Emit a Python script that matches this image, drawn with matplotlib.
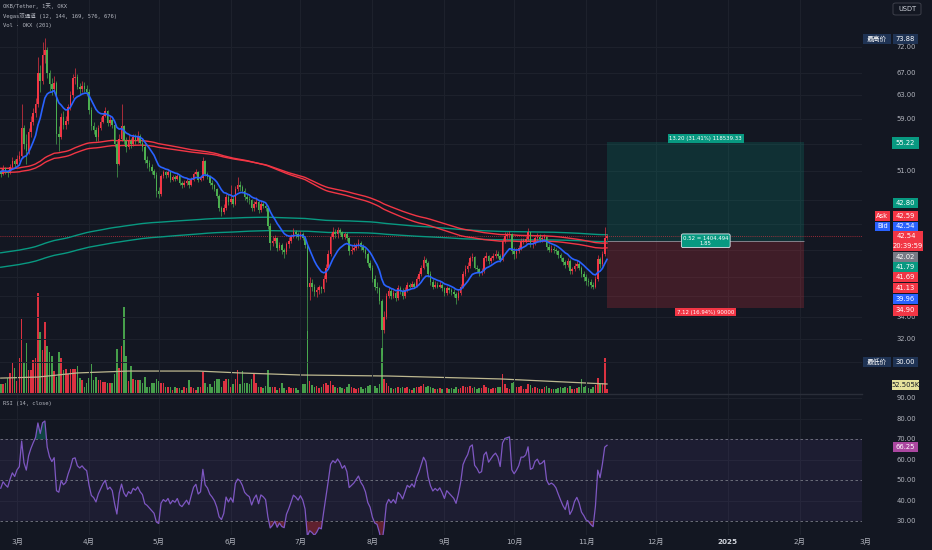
import numpy as np
import pandas as pd
import matplotlib
matplotlib.use('Agg')
import matplotlib.pyplot as plt
import matplotlib.dates as mdates
from matplotlib.patches import Rectangle, FancyBboxPatch
from matplotlib.transforms import blended_transform_factory as blend

plt.rcParams['font.family'] = ['DejaVu Sans', 'Noto Sans CJK SC']
MONO = ['DejaVu Sans Mono', 'Noto Sans CJK SC']

# ---------------- data (daily OKB/USDT, OKX) ----------------
start_date = '2024-02-23'
first_open = 50.9

close_feb = [50.6, 51.4, 51.0, 50.7, 51.6, 52.4, 52.0]
close_mar = [52.8, 53.2, 57.5, 55.0, 54.0, 56.8, 58.5, 60.0, 61.5, 67.0,
             65.5, 70.5, 71.5, 67.0, 65.0, 64.0, 65.2, 56.5, 56.0, 59.2,
             58.0, 58.6, 61.0, 63.0, 66.0, 66.3, 64.5, 64.0, 64.6, 64.0, 63.6]
close_apr = [60.5, 57.8, 57.2, 56.0, 57.5, 58.5, 59.5, 60.2, 58.3, 58.7,
             58.0, 55.0, 52.0, 55.8, 57.8, 55.5, 54.5, 55.5, 55.0, 56.0,
             55.6, 56.2, 55.2, 54.6, 52.6, 52.2, 51.6, 51.0, 50.4, 48.2]
close_may = [47.8, 50.3, 50.8, 50.4, 50.8, 49.8, 50.2, 49.9, 50.3, 49.3,
             49.0, 49.3, 49.6, 49.0, 49.8, 50.6, 50.9, 49.8, 50.0, 52.4,
             50.6, 50.2, 49.4, 49.0, 48.5, 47.6, 46.0, 45.5, 46.0, 47.5, 46.8]
close_jun = [47.2, 46.6, 48.5, 49.0, 48.8, 48.3, 47.5, 47.2, 47.0, 46.0,
             46.5, 46.8, 45.8, 46.5, 46.3, 46.0, 43.8, 41.8, 42.0, 42.3,
             41.2, 41.5, 40.9, 40.7, 41.6, 42.0, 42.5, 43.0, 42.8, 42.5]
close_jul = [42.8, 42.4, 41.5, 37.0, 37.4, 37.0, 36.4, 36.6, 36.9, 36.7,
             37.8, 39.0, 40.5, 42.5, 43.0, 42.8, 43.3, 43.0, 42.5, 42.8,
             42.3, 40.8, 41.0, 41.2, 41.5, 41.8, 41.3, 41.0, 40.5, 39.5, 39.0]
close_aug = [37.8, 37.0, 36.8, 35.5, 32.8, 34.0, 36.0, 36.5, 36.0, 36.3,
             35.8, 36.8, 36.5, 36.0, 36.6, 37.2, 37.0, 37.3, 37.0, 37.8,
             38.3, 39.0, 39.8, 39.5, 38.3, 37.5, 37.0, 37.2, 37.0, 37.2, 36.8]
close_sep = [36.3, 36.8, 36.6, 36.4, 36.2, 35.8, 36.3, 37.0, 38.3, 38.8,
             39.2, 40.0, 40.2, 39.0, 38.8, 38.5, 38.6, 40.0, 40.3, 39.7,
             40.0, 40.3, 40.5, 40.3, 39.8, 42.0, 42.6, 42.7, 42.8, 40.8]
close_oct = [40.5, 40.8, 41.2, 42.0, 42.0, 42.2, 43.0, 41.6, 41.7, 42.3,
             42.5, 42.2, 42.3, 42.5, 41.3, 41.0, 41.1, 41.0, 40.8, 40.4,
             40.0, 39.6, 39.3, 39.7, 38.6, 38.8, 39.2, 39.4, 39.0, 38.3, 38.0]
close_nov = [37.6, 37.5, 37.2, 37.0, 37.8, 39.9, 39.4, 40.5, 42.3, 42.54]

high_feb = [51.3, 51.8, 51.6, 51.2, 52.0, 53.0, 52.8]
high_mar = [53.4, 54.0, 61.5, 58.0, 56.5, 57.5, 59.5, 60.8, 62.5, 70.0,
            68.5, 73.0, 73.88, 72.0, 67.5, 66.0, 66.5, 65.5, 57.8, 60.0,
            60.2, 59.5, 61.5, 63.8, 66.8, 68.0, 66.8, 65.2, 65.5, 65.3, 64.8]
high_apr = [64.0, 61.0, 58.5, 57.6, 58.0, 59.2, 60.0, 61.0, 60.5, 59.5,
            59.0, 58.5, 55.5, 56.5, 61.5, 58.0, 56.0, 56.3, 55.9, 56.5,
            56.5, 57.0, 56.5, 55.6, 55.0, 53.2, 52.6, 52.0, 51.3, 50.8]
high_may = [48.8, 50.6, 51.2, 51.0, 51.2, 50.9, 50.5, 50.4, 50.6, 50.5,
            49.6, 49.7, 50.0, 49.8, 50.2, 50.9, 51.3, 51.0, 50.3, 53.0,
            52.6, 50.9, 50.4, 49.7, 49.2, 48.7, 47.8, 46.3, 46.5, 47.9, 47.8]
high_jun = [49.0, 47.6, 48.9, 50.2, 49.6, 49.1, 48.6, 47.8, 47.6, 47.2,
            46.9, 47.4, 47.0, 46.9, 46.8, 46.6, 46.2, 44.1, 42.6, 42.7,
            42.5, 41.9, 41.7, 41.2, 41.9, 42.5, 42.8, 43.5, 43.3, 43.0]
high_jul = [43.2, 43.0, 42.6, 41.8, 38.0, 37.8, 37.3, 36.9, 37.2, 37.1,
            38.2, 39.4, 40.9, 42.9, 43.6, 43.4, 43.6, 43.5, 43.2, 43.0,
            43.0, 42.5, 41.5, 41.8, 41.8, 42.2, 42.0, 41.6, 41.2, 40.7, 39.8]
high_aug = [39.3, 38.2, 37.5, 37.0, 35.7, 34.6, 36.3, 37.0, 36.8, 36.6,
            36.5, 37.2, 37.1, 36.8, 36.9, 37.5, 37.4, 37.6, 37.5, 38.1,
            38.6, 39.3, 40.3, 40.1, 39.7, 38.6, 37.8, 37.6, 37.5, 37.6, 37.4]
high_sep = [36.9, 37.1, 37.0, 36.8, 36.7, 36.4, 36.6, 37.3, 38.6, 39.3,
            39.6, 40.3, 40.6, 40.3, 39.3, 39.0, 38.9, 40.3, 40.7, 40.4,
            40.3, 40.6, 40.9, 40.8, 40.5, 42.4, 43.0, 43.1, 43.2, 42.9]
high_oct = [41.3, 41.2, 41.5, 42.3, 42.4, 42.6, 43.5, 43.1, 42.1, 42.6,
            42.9, 42.8, 42.6, 42.8, 42.6, 41.6, 41.5, 41.4, 41.2, 41.0,
            40.6, 40.2, 39.8, 40.0, 39.9, 39.1, 39.5, 39.8, 39.6, 39.2, 38.6]
high_nov = [38.3, 37.9, 37.8, 37.5, 38.1, 40.4, 40.2, 40.8, 43.7, 42.8]

low_feb = [50.2, 50.5, 50.6, 50.2, 50.6, 51.4, 51.5]
low_mar = [51.8, 52.4, 52.9, 54.3, 52.0, 53.5, 56.0, 58.0, 59.2, 61.0,
           63.5, 65.0, 68.8, 66.0, 63.8, 63.0, 63.5, 55.0, 54.0, 55.8,
           57.3, 57.4, 58.2, 60.5, 62.5, 65.0, 64.0, 63.2, 63.5, 63.5, 62.8]
low_apr = [59.8, 57.2, 56.5, 55.4, 55.5, 57.2, 58.3, 59.2, 57.8, 57.8,
           57.5, 54.5, 50.2, 51.8, 55.4, 55.0, 53.8, 54.2, 54.4, 54.7,
           55.0, 55.2, 55.0, 54.0, 52.2, 51.5, 51.0, 50.6, 50.0, 47.4]
low_may = [47.3, 47.6, 50.0, 50.0, 50.2, 49.5, 49.6, 49.6, 49.7, 49.0,
           48.6, 48.8, 49.1, 48.7, 48.9, 49.6, 50.4, 49.5, 49.6, 49.8,
           50.3, 49.9, 49.1, 48.5, 48.2, 47.3, 45.6, 45.0, 45.3, 45.8, 46.4]
low_jun = [46.5, 46.2, 46.4, 48.2, 48.3, 48.0, 47.1, 46.8, 46.5, 45.6,
           45.7, 46.2, 45.4, 45.5, 46.0, 45.6, 43.4, 41.0, 41.4, 41.7,
           40.8, 40.9, 40.5, 40.1, 40.5, 41.2, 41.8, 42.3, 42.4, 42.1]
low_jul = [42.2, 42.1, 41.2, 30.0, 35.6, 36.5, 36.0, 35.9, 36.2, 36.3,
           36.4, 37.5, 38.8, 40.3, 42.2, 42.3, 42.4, 42.7, 42.2, 42.2,
           42.0, 40.4, 40.5, 40.8, 40.9, 41.2, 41.0, 40.7, 40.1, 39.2, 38.7]
low_aug = [37.5, 36.6, 36.3, 35.2, 30.6, 32.5, 33.8, 35.8, 35.7, 35.8,
           35.5, 35.6, 36.2, 35.7, 35.8, 36.4, 36.8, 36.9, 36.8, 36.9,
           37.6, 38.1, 38.8, 39.2, 38.0, 37.2, 36.7, 36.8, 36.8, 36.8, 36.5]
low_sep = [36.0, 36.1, 36.3, 36.1, 35.9, 35.2, 35.6, 36.1, 36.8, 38.1,
           38.5, 39.0, 39.7, 38.8, 38.5, 38.1, 38.2, 38.4, 39.7, 39.4,
           39.5, 39.8, 40.1, 40.0, 39.6, 39.7, 41.7, 42.2, 42.4, 40.5]
low_oct = [39.9, 40.1, 40.6, 41.0, 41.6, 41.8, 42.0, 41.3, 41.2, 41.5,
           42.0, 41.9, 41.9, 42.0, 41.0, 40.7, 40.7, 40.6, 40.5, 40.1,
           39.7, 39.3, 38.9, 39.1, 38.3, 38.3, 38.6, 39.0, 38.7, 38.0, 37.6]
low_nov = [37.2, 37.1, 36.8, 36.7, 36.8, 37.6, 38.9, 39.2, 40.3, 42.1]

vol_feb = [54, 54, 60, 90, 114, 174, 144]
vol_mar = [72, 204, 432, 180, 294, 132, 132, 192, 204, 582,
           354, 252, 414, 276, 240, 216, 126, 96, 240, 204,
           132, 138, 108, 138, 138, 138, 156, 90, 78, 36, 60]
vol_apr = [90, 168, 78, 96, 78, 78, 66, 66, 60, 60,
           60, 108, 258, 144, 276, 504, 216, 72, 156, 84,
           78, 78, 78, 60, 96, 36, 36, 60, 60, 84]
vol_may = [72, 60, 60, 36, 36, 36, 18, 36, 30, 30,
           18, 36, 30, 78, 36, 30, 18, 36, 36, 120,
           60, 36, 54, 36, 72, 84, 84, 36, 72, 84, 84]
vol_jun = [36, 54, 84, 132, 54, 126, 60, 60, 54, 84,
           114, 60, 36, 36, 30, 42, 132, 36, 36, 36,
           18, 30, 60, 30, 18, 36, 30, 30, 30, 18]
vol_jul = [36, 54, 54, 360, 72, 48, 36, 42, 30, 36,
           54, 60, 48, 72, 48, 36, 30, 36, 30, 24,
           36, 54, 36, 30, 24, 30, 36, 24, 30, 42, 48]
vol_aug = [48, 42, 30, 54, 264, 84, 60, 42, 30, 24,
           30, 36, 30, 36, 30, 36, 24, 18, 30, 36,
           36, 42, 54, 36, 42, 36, 30, 24, 24, 30, 24]
vol_sep = [24, 30, 24, 30, 24, 36, 24, 30, 42, 36,
           36, 42, 30, 36, 24, 30, 30, 48, 36, 30,
           24, 30, 30, 36, 36, 108, 54, 30, 24, 60]
vol_oct = [66, 36, 36, 42, 24, 24, 54, 48, 30, 36,
           30, 24, 24, 36, 42, 30, 24, 24, 24, 30,
           36, 30, 36, 30, 42, 24, 24, 30, 36, 84, 36]
vol_nov = [42, 30, 24, 36, 48, 90, 54, 60, 204, 24]

# long volume average (thousands), sampled
vol_ma_dates = ['2024-02-23', '2024-03-10', '2024-03-27', '2024-04-18', '2024-05-18',
                '2024-06-05', '2024-07-01', '2024-08-08', '2024-09-25', '2024-11-10']
vol_ma_k = [87, 93, 117, 128, 128, 117, 105, 99, 82, 52.5]

# indicator seeds (values carried in from before the visible range)
ema_periods = [12, 144, 169, 576, 676]
ema_seeds = [51.0, 51.4, 50.8, 40.6, 39.0]
rsi_seed_gain, rsi_seed_loss = 0.50, 0.56

# position tool
entry_price, target_price, stop_price = 42.02, 55.22, 34.90
box_end_date = '2025-02-03'
profit_text = '13.20 (31.41%) 118539.33'
loss_text = '7.12 (16.94%) 90000'
mid_text = '0.52 = 1404.494\n1.85'

price_ticks = [72, 67, 63, 59, 55, 51, 47, 44, 41, 38, 36, 34, 32, 30]
price_tick_labels_shown = [72, 67, 63, 59, 51, 34, 32]
rsi_ticks = [90, 80, 70, 60, 50, 40, 30]
month_ticks = ['2024-03-01', '2024-04-01', '2024-05-01', '2024-06-01', '2024-07-01',
               '2024-08-01', '2024-09-01', '2024-10-01', '2024-11-01', '2024-12-01',
               '2025-01-01', '2025-02-01', '2025-03-01']
month_labels = ['3月', '4月', '5月', '6月', '7月', '8月', '9月', '10月', '11月', '12月',
                '2025', '2月', '3月']

# right-axis tags: (text, color)
axis_tags = [('42.80', '#089981'), ('42.59', '#f23645'), ('42.54', '#2962ff'),
             ('42.02', '#787b86'), ('41.79', '#089981'), ('41.69', '#f23645'),
             ('41.13', '#f23645'), ('39.96', '#2962ff'), ('34.90', '#f23645')]
last_price_text, countdown_text = '42.54', '20:39:59'
vol_tag_text = '52.505K'
rsi_tag_text = '66.25'

# ---------------- assemble ----------------
closes = close_feb + close_mar + close_apr + close_may + close_jun + close_jul + close_aug + close_sep + close_oct + close_nov
highs = high_feb + high_mar + high_apr + high_may + high_jun + high_jul + high_aug + high_sep + high_oct + high_nov
lows = low_feb + low_mar + low_apr + low_may + low_jun + low_jul + low_aug + low_sep + low_oct + low_nov
volumes_k = vol_feb + vol_mar + vol_apr + vol_may + vol_jun + vol_jul + vol_aug + vol_sep + vol_oct + vol_nov

dates = pd.date_range(start_date, periods=len(closes), freq='D')
x = mdates.date2num(dates)
c = np.array(closes, float)
o = np.r_[first_open, c[:-1]]
h = np.maximum(np.array(highs, float), np.maximum(o, c))
l = np.minimum(np.array(lows, float), np.minimum(o, c))
v = np.array(volumes_k, float)
up = c >= o

cs = pd.Series(c)
def ema(seed, span):
    return pd.concat([pd.Series([seed]), cs], ignore_index=True).ewm(span=span, adjust=False).mean().iloc[1:].to_numpy()
emas = [ema(s, p) for s, p in zip(ema_seeds, ema_periods)]

delta = cs.diff()
delta.iloc[0] = c[0] - first_open
gain = delta.clip(lower=0)
loss = (-delta).clip(lower=0)
ag = pd.concat([pd.Series([rsi_seed_gain]), gain], ignore_index=True).ewm(alpha=1/14, adjust=False).mean().iloc[1:].to_numpy()
al = pd.concat([pd.Series([rsi_seed_loss]), loss], ignore_index=True).ewm(alpha=1/14, adjust=False).mean().iloc[1:].to_numpy()
rsi = 100 - 100 / (1 + ag / al)

# ---------------- style ----------------
BG = '#131722'
GRID = '#1e222d'
TXT = '#b2b5be'
UP = '#f23645'
DN = '#4caf50'
W, H = 932, 550

def fx(p): return p / W
def fy(p): return 1 - p / H

fig = plt.figure(figsize=(W / 100, H / 100), dpi=100, facecolor=BG)
ax = fig.add_axes([0, fy(393), fx(862), 393 / H])
axv = ax.twinx()
axr = fig.add_axes([0, fy(535), fx(862), 142 / H], facecolor=BG)
axv.set_zorder(1); ax.set_zorder(2)
axv.patch.set_facecolor(BG); ax.patch.set_visible(False)

mar1 = mdates.date2num(pd.Timestamp('2024-03-01'))
ppd = 2.323
xlim = (mar1 - 17 / ppd, mar1 + (862 - 17) / ppd)
for a in (ax, axv, axr):
    a.set_xlim(*xlim)
    for s in a.spines.values():
        s.set_visible(False)
    a.set_xticks([]); a.set_yticks([])
    a.tick_params(which='both', length=0, labelleft=False, labelright=False, labelbottom=False)

ax.set_yscale('log')
ax.set_ylim(27.52, 82.05)
ax.yaxis.set_major_locator(matplotlib.ticker.NullLocator())
ax.yaxis.set_minor_locator(matplotlib.ticker.NullLocator())
axv.set_ylim(0, 2292)
axv.set_yticks([])
axr.set_ylim(23.4, 92.44)

# grid
mdn = mdates.date2num(pd.to_datetime(month_ticks))
for m in mdn:
    ax.axvline(m, color=GRID, lw=0.7, zorder=0)
    axr.axvline(m, color=GRID, lw=0.7, zorder=0)
for t in price_ticks:
    ax.axhline(t, color=GRID, lw=0.7, zorder=0)
for t in [90, 80, 60, 40]:
    axr.axhline(t, color=GRID, lw=0.7, zorder=0)

# volume
vcol = np.where(up, UP, DN)
axv.bar(x, v, width=0.68, color=vcol, alpha=0.9, linewidth=0)
axv.plot(mdates.date2num(pd.to_datetime(vol_ma_dates)), vol_ma_k, color='#bdb890', lw=0.9)

# position tool (behind candles)
xb0 = x[-1]
xb1 = mdates.date2num(pd.Timestamp(box_end_date))
ax.add_patch(Rectangle((xb0, entry_price), xb1 - xb0, target_price - entry_price,
                       facecolor='#089981', alpha=0.2, lw=0, zorder=1))
ax.add_patch(Rectangle((xb0, stop_price), xb1 - xb0, entry_price - stop_price,
                       facecolor='#f23645', alpha=0.2, lw=0, zorder=1))
ax.hlines(entry_price, xb0, xb1, color='#8f929b', lw=0.6, zorder=2)

# last price line
ax.axhline(c[-1], color=UP, lw=0.6, ls=(0, (1, 1.5)), alpha=0.8, zorder=1)

# EMAs
ax.plot(x, emas[3], color='#089981', lw=1.0, zorder=3)
ax.plot(x, emas[4], color='#089981', lw=1.0, zorder=3)
ax.plot(x, emas[1], color='#f23645', lw=1.0, zorder=3)
ax.plot(x, emas[2], color='#f23645', lw=1.0, zorder=3)

# candles
ccol = np.where(up, UP, DN)
ax.vlines(x, l, h, colors=ccol, lw=0.55, alpha=0.85, zorder=4)
bot = np.minimum(o, c)
top = np.maximum(np.maximum(o, c), bot * 1.002)
ax.bar(x, top - bot, bottom=bot, width=0.68, color=ccol, linewidth=0, zorder=5)

ax.plot(x, emas[0], color='#2962ff', lw=1.2, zorder=6)

# position labels
xc = (xb0 + xb1) / 2
ax.annotate(profit_text, (xc, target_price), xytext=(0, 1.5), textcoords='offset pixels',
            ha='center', va='bottom', fontsize=3.9, color='white', zorder=8,
            bbox=dict(boxstyle='square,pad=0.3', fc='#089981', ec='none'))
ax.annotate(loss_text, (xc, stop_price), xytext=(0, -2), textcoords='offset pixels',
            ha='center', va='top', fontsize=3.9, color='white', zorder=8,
            bbox=dict(boxstyle='square,pad=0.3', fc='#f23645', ec='none'))
ax.annotate(mid_text, (xc, entry_price), ha='center', va='center', fontsize=3.9,
            color='white', zorder=8, linespacing=1.1,
            bbox=dict(boxstyle='round,pad=0.3,rounding_size=0.3', fc='#089981', ec='#e0e3eb', lw=0.6))

# RSI
axr.axhspan(30, 70, color='#7e57c2', alpha=0.1, lw=0, zorder=0)
for t in (70, 50, 30):
    axr.axhline(t, color='#787b86', lw=0.6, ls=(0, (3, 3)), zorder=1)
axr.fill_between(x, rsi, 70, where=rsi > 70, interpolate=True, color='#089981', alpha=0.35, lw=0, zorder=2)
axr.fill_between(x, rsi, 30, where=rsi < 30, interpolate=True, color='#f23645', alpha=0.35, lw=0, zorder=2)
axr.plot(x, rsi, color='#7e57c2', lw=0.9, zorder=3)

# pane separator
fig.add_artist(plt.Line2D([0, fx(862)], [fy(393.5), fy(393.5)], transform=fig.transFigure, color='#2a2e39', lw=1.0))

# right axis tick labels
FS = 4.9
tr_p = blend(ax.transAxes, ax.transData)
for t in price_tick_labels_shown:
    ax.text(906 / 862, t, f'{t:.2f}', transform=tr_p, ha='center', va='center',
            color=TXT, fontsize=FS, clip_on=False, zorder=1)
tr_r = blend(axr.transAxes, axr.transData)
for t in rsi_ticks:
    axr.text(906 / 862, t, f'{t:.2f}', transform=tr_r, ha='center', va='center',
             color=TXT, fontsize=FS, clip_on=False)

# month labels
tr_m = blend(axr.transData, axr.transAxes)
for m, lab in zip(mdn, month_labels):
    axr.text(m, (535 - 541.5) / 142, lab, transform=tr_m, ha='center', va='center',
             color='#d1d4dc' if lab == '2025' else TXT, fontsize=5.2,
             fontweight='bold' if lab == '2025' else 'normal', clip_on=False)

def tag(x0, x1, y0, y1, bg, text=None, fg='white', fs=FS, ty=None):
    fig.add_artist(Rectangle((fx(x0), fy(y1)), fx(x1 - x0), (y1 - y0) / H,
                             transform=fig.transFigure, facecolor=bg, edgecolor='none', zorder=10))
    if text is not None:
        fig.text(fx((x0 + x1) / 2), fy(ty if ty is not None else (y0 + y1) / 2), text,
                 ha='center', va='center', color=fg, fontsize=fs, zorder=11)

NAVY = '#1f3354'
tag(863, 891, 34, 44, NAVY, '最高价')
tag(893, 918, 34, 44, NAVY, f'{h.max():.2f}')
tag(863, 891, 357, 367, NAVY, '最低价')
tag(893, 918, 357, 367, NAVY, f'{l.min():.2f}')
tag(892, 919, 137, 149, '#089981', f'{target_price:.2f}')

tag_rows = [(198, 208), (211, 221), (222, 231), (252, 262), (262, 272),
            (272, 282), (283, 293), (294, 304), (305, 316)]
for (txt, col), (y0, y1) in zip(axis_tags, tag_rows):
    tag(893, 918, y0, y1, col, txt)
tag(875, 890, 211, 221, '#f23645', 'Ask')
tag(875, 890, 222, 231, '#2962ff', 'Bid')
tag(893, 923, 231, 251, '#f23645')
fig.text(fx(906), fy(236.5), last_price_text, ha='center', va='center', color='white', fontsize=FS, zorder=11)
fig.text(fx(908), fy(246), countdown_text, ha='center', va='center', color='white', fontsize=FS, zorder=11)
tag(892, 919, 380, 390, '#e6e29c', vol_tag_text, fg='#131722')
tag(893, 918, 442, 452, '#ab47a0', rsi_tag_text)

# USDT button
fig.add_artist(FancyBboxPatch((fx(893), fy(15)), fx(28), 12 / H, boxstyle='round,pad=0,rounding_size=0.003',
                              transform=fig.transFigure, facecolor=BG, edgecolor='#434651', lw=0.6, zorder=10))
fig.text(fx(907), fy(9), 'USDT', ha='center', va='center', color='#d1d4dc', fontsize=4.8, zorder=11)

# legend lines
fig.text(fx(3), fy(6), 'OKB/Tether, 1天, OKX', ha='left', va='center', color=TXT, fontsize=4.0, family=MONO)
fig.text(fx(3), fy(16), 'Vegas双通道 (12, 144, 169, 576, 676)', ha='left', va='center', color=TXT, fontsize=4.0, family=MONO)
fig.text(fx(3), fy(25), 'Vol · OKX (201)', ha='left', va='center', color=TXT, fontsize=4.0, family=MONO)
fig.text(fx(3), fy(403), 'RSI (14, close)', ha='left', va='center', color=TXT, fontsize=4.0, family=MONO)

fig.savefig('out.png', dpi=100, facecolor=BG)
